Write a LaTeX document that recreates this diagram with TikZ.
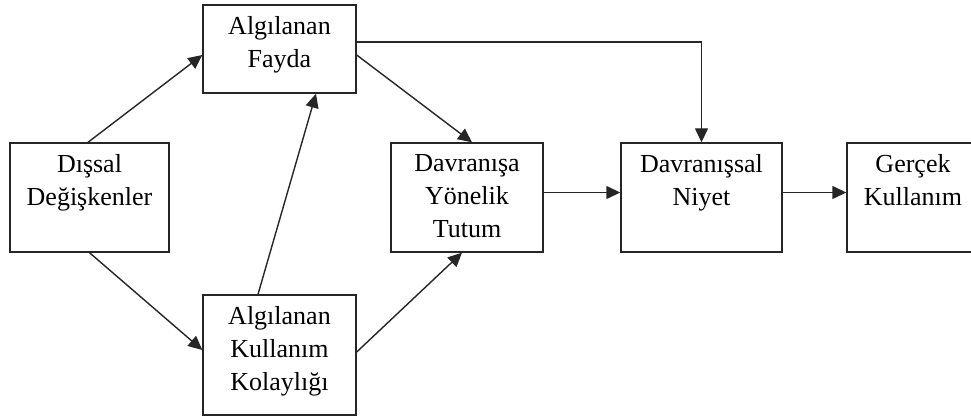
\documentclass[tikz,border=0pt]{standalone}
\usepackage{fontspec}
\setmainfont{Liberation Serif}
\usetikzlibrary{arrows.meta,calc}
\tikzset{
  box/.style={draw=black!85, line width=1.4pt, rectangle, inner sep=0pt},
  lbl/.style={align=center, inner sep=0pt, anchor=north, font=\fontsize{26}{33}\selectfont, text=black},
  conn/.style={draw=black!85, line width=1.4pt, -{Triangle[length=14pt,width=13pt]}}
}
\begin{document}
\begin{tikzpicture}[x=1pt,y=-1pt]
\useasboundingbox (0,0) rectangle (971,419);
\clip (0,0) rectangle (971,419);
\fill[white] (0,0) rectangle (971,419);
% boxes
\node[box, minimum width=159pt, minimum height=109pt] (dd) at (89.5,197.5) {};
\node[box, minimum width=153pt, minimum height=88pt] (af) at (279.5,49) {};
\node[box, minimum width=153pt, minimum height=120pt] (akk) at (279.5,355) {};
\node[box, minimum width=152pt, minimum height=109pt] (dyt) at (467,197.5) {};
\node[box, minimum width=161pt, minimum height=109pt] (dn) at (701.5,197.5) {};
\node[box, minimum width=132pt, minimum height=109pt] (gk) at (913,197.5) {};
% labels
\node[lbl] (tdd) at ([yshift=-12pt]dd.north) {Dışsal\\Değişkenler};
\node[lbl] (taf) at ([yshift=-12pt]af.north) {Algılanan\\Fayda};
\node[lbl] (takk) at ([yshift=-12pt]akk.north) {Algılanan\\Kullanım\\Kolaylığı};
\node[lbl] (tdyt) at ([yshift=-12pt]dyt.north) {Davranışa\\Yönelik\\Tutum};
\node[lbl] (tdn) at ([yshift=-12pt]dn.north) {Davranışsal\\Niyet};
\node[lbl] (tgk) at ([yshift=-12pt]gk.north) {Gerçek\\Kullanım};
% connectors
\draw[conn] ([xshift=-1.5pt]dd.north) -- ([yshift=-6pt]af.west);
\draw[conn] (dd.south) -- ([yshift=5pt]akk.west);
\draw[conn] ([xshift=-21.5pt]akk.north) -- ([xshift=36.5pt]af.south);
\draw[conn] ([yshift=-6pt]af.east) -- ([xshift=5pt]dyt.north);
\draw[conn] ([yshift=3pt]akk.east) -- ([xshift=-5pt]dyt.south);
\draw[conn] ([yshift=5pt]dyt.east) -- ([yshift=5pt]dn.west);
\draw[conn] ([yshift=5pt]dn.east) -- ([yshift=5pt]gk.west);
\draw[conn] ([yshift=7pt]af.east) -| (dn.north);
\end{tikzpicture}
\end{document}
